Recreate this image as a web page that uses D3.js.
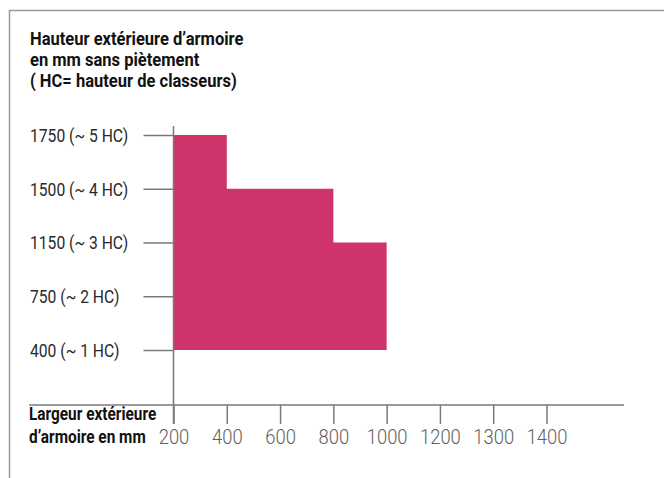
<!DOCTYPE html>
<html>
<head>
<meta charset="utf-8">
<script src="https://cdn.jsdelivr.net/npm/d3@7"></script>
<style>
  html, body { margin: 0; padding: 0; background: #fff; }
  svg { display: block; }
  svg text { font-family: Roboto, "Liberation Sans", sans-serif; }
</style>
</head>
<body>
<svg id="chart" width="664" height="478"></svg>
<script>
// Axis categories
const widthTicks = ["200", "400", "600", "800", "1000", "1200", "1300", "1400"];
const heightTicks = ["400", "750", "1150", "1500", "1750"];
const hcCounts = [1, 2, 3, 4, 5];

// Cabinet range: outer width (step start) -> maximum outer height
const stepWidths = ["200", "400", "800", "1000"];
const stepHeights = ["1750", "1500", "1150", "1150"];
const baseHeight = "400";

const titleLines = [
  "Hauteur extérieure d\u2019armoire",
  "en mm sans piètement",
  "( HC= hauteur de classeurs)"
];
const xTitleLines = ["Largeur extérieure", "d\u2019armoire en mm"];

const svg = d3.select("#chart");
const axisColor = "#7a7a7a";
const fillColor = "#cf336b";

// Narrow the glyphs horizontally (about each text's own x) for a condensed face
function condense(sel, k) {
  sel.each(function () {
    const x0 = +(this.getAttribute("x") || 0);
    d3.select(this)
      .attr("transform", `translate(${x0 * (1 - k)},0) scale(${k},1)`);
  });
}

// Frame
svg.append("path")
  .attr("d", "M9.5,478 V10.5 H664")
  .attr("fill", "none")
  .attr("stroke", "#9a9a9a")
  .attr("stroke-width", 1.5);

const x = d3.scalePoint().domain(widthTicks).range([173.5, 546.5]);
const y = d3.scalePoint().domain(heightTicks).range([350, 135]);

// Step area
const stepData = stepWidths.map((w, i) => ({ w, h: stepHeights[i] }));
const area = d3.area()
  .x(d => x(d.w))
  .y0(y(baseHeight))
  .y1(d => y(d.h))
  .curve(d3.curveStepAfter);

svg.append("path")
  .datum(stepData)
  .attr("d", area)
  .attr("fill", fillColor);

// Left axis (category ticks)
const yAxis = d3.axisLeft(y)
  .tickSize(30)
  .tickSizeOuter(0)
  .tickFormat((d, i) => `${d} (~ ${hcCounts[i]} HC)`);

const gy = svg.append("g")
  .attr("transform", "translate(173.5,0)")
  .call(yAxis);
gy.select(".domain").remove();
gy.selectAll(".tick line").attr("stroke", axisColor).attr("stroke-width", 1.5);
gy.selectAll(".tick text")
  .attr("x", -143.5)
  .attr("dy", "0.36em")
  .attr("text-anchor", "start")
  .attr("fill", "#2a2a2a")
  .style("font-family", "Roboto, sans-serif")
  .style("font-weight", 400)
  .style("font-size", "18px")
  .call(condense, 0.87);

// Vertical axis line
svg.append("line")
  .attr("x1", 173.5).attr("x2", 173.5)
  .attr("y1", 126).attr("y2", 424)
  .attr("stroke", axisColor)
  .attr("stroke-width", 1.5);

// Bottom axis
const xAxis = d3.axisBottom(x)
  .tickSize(19)
  .tickSizeOuter(0);

const gx = svg.append("g")
  .attr("transform", "translate(0,405)")
  .call(xAxis);
gx.select(".domain").remove();
gx.selectAll(".tick line").attr("stroke", axisColor).attr("stroke-width", 1.5);
gx.selectAll(".tick text")
  .attr("y", 39.5)
  .attr("dy", 0)
  .attr("fill", "#5e5e5e")
  .style("font-family", "Roboto, sans-serif")
  .style("font-weight", 300)
  .style("font-size", "21px")
  .call(condense, 0.875);

svg.append("line")
  .attr("x1", 29).attr("x2", 624)
  .attr("y1", 405).attr("y2", 405)
  .attr("stroke", axisColor)
  .attr("stroke-width", 1.5);

// Titles
svg.append("g").selectAll("text")
  .data(titleLines)
  .join("text")
  .attr("x", 30)
  .attr("y", (d, i) => 45.5 + i * 20.7)
  .attr("fill", "#111")
  .style("font-weight", 700)
  .style("font-size", "19px")
  .text(d => d)
  .call(condense, 0.87);

svg.append("g").selectAll("text")
  .data(xTitleLines)
  .join("text")
  .attr("x", 29)
  .attr("y", (d, i) => 420.5 + i * 22.5)
  .attr("fill", "#111")
  .style("font-weight", 700)
  .style("font-size", "18px")
  .text(d => d)
  .call(condense, 0.855);
</script>
</body>
</html>
